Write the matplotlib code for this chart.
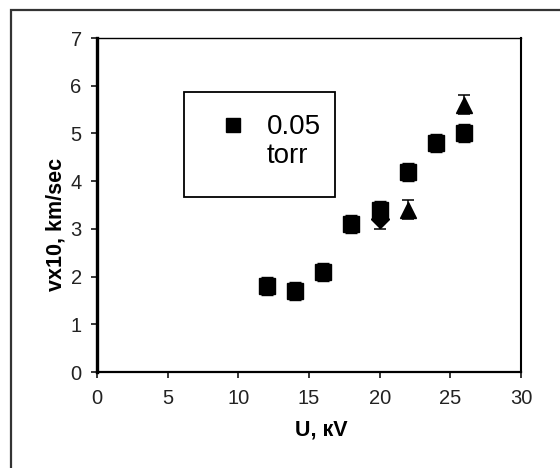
import matplotlib.pyplot as plt
from matplotlib.lines import Line2D
from matplotlib.patches import Rectangle

plt.rcParams['font.family'] = ['Liberation Sans', 'DejaVu Sans']

# 0.05 torr (squares)
u_sq = [12, 14, 16, 18, 20, 22, 24, 26]
v_sq = [1.8, 1.7, 2.1, 3.1, 3.4, 4.2, 4.8, 5.0]
err_sq = [0.19, 0.19, 0.19, 0.19, 0.19, 0.19, 0.19, 0.19]

# triangles
u_tri = [22, 26]
v_tri = [3.4, 5.6]
err_tri = [0.2, 0.2]

# diamond (mostly hidden behind the square at 20 kV)
u_dia = [20]
v_dia = [3.2]
err_dia = [0.2]

x_ticks = [0, 5, 10, 15, 20, 25, 30]
y_ticks = [0, 1, 2, 3, 4, 5, 6, 7]
legend_labels = ['0.05', 'torr']

fig = plt.figure(figsize=(5.6, 4.68), dpi=100)
ax = fig.add_axes([97/560, 1 - 372/468, 424/560, 334/468])

# outer chart frame (cut off at right and bottom)
fig.add_artist(Rectangle((10.5/560, -0.05), 1.1, 1.05 - 10/468,
                         transform=fig.transFigure, fill=False,
                         lw=1.6, ec='#333333'))

ax.errorbar(u_dia, v_dia, yerr=err_dia, fmt='D', ms=8.7, color='black',
            elinewidth=1.1, capsize=4.5, capthick=1.1, zorder=2)
ax.errorbar(u_tri, v_tri, yerr=err_tri, fmt='^', ms=11.5, color='black',
            elinewidth=1.1, capsize=4.5, capthick=1.1, zorder=2)
ax.errorbar(u_sq, v_sq, yerr=err_sq, fmt='s', ms=11.5, color='black',
            elinewidth=1.1, capsize=4.2, capthick=1.0, zorder=3)

ax.set_xlim(0, 30)
ax.set_ylim(0, 7)
ax.set_xticks(x_ticks)
ax.set_yticks(y_ticks)
ax.tick_params(direction='out', length=4, width=1.1, labelsize=14.5,
               labelcolor='#222222', color='black')
ax.tick_params(axis='x', pad=8)
ax.tick_params(axis='y', pad=7)

ax.spines['left'].set_linewidth(2.4)
ax.spines['bottom'].set_linewidth(1.6)
ax.spines['right'].set_linewidth(1.5)
ax.spines['top'].set_linewidth(1.0)

ax.set_xlabel('U, кV', fontsize=15.5, fontweight='bold', va='center')
ax.set_ylabel('vx10, km/sec', fontsize=15.5, fontweight='bold', va='center')
ax.xaxis.set_label_coords((321 - 97) / 424, (372 - 430) / 334)
ax.yaxis.set_label_coords((56 - 97) / 424, (372 - 224) / 334)

# legend box
ax.add_patch(Rectangle((87/424, 175/334), 151/424, 105/334,
                       transform=ax.transAxes, fill=False, lw=1.3,
                       ec='black', zorder=4))
handles = [Line2D([], [], ls='none', marker='s', ms=9.5, color='black'),
           Line2D([], [], ls='none')]
ax.legend(handles, legend_labels, loc='upper left',
          bbox_to_anchor=(109/424, 257.5/334), frameon=False,
          borderpad=0, borderaxespad=0, fontsize=20, handlelength=1.94,
          handletextpad=0.25, labelspacing=0.08)

fig.savefig('out.png', dpi=100)
